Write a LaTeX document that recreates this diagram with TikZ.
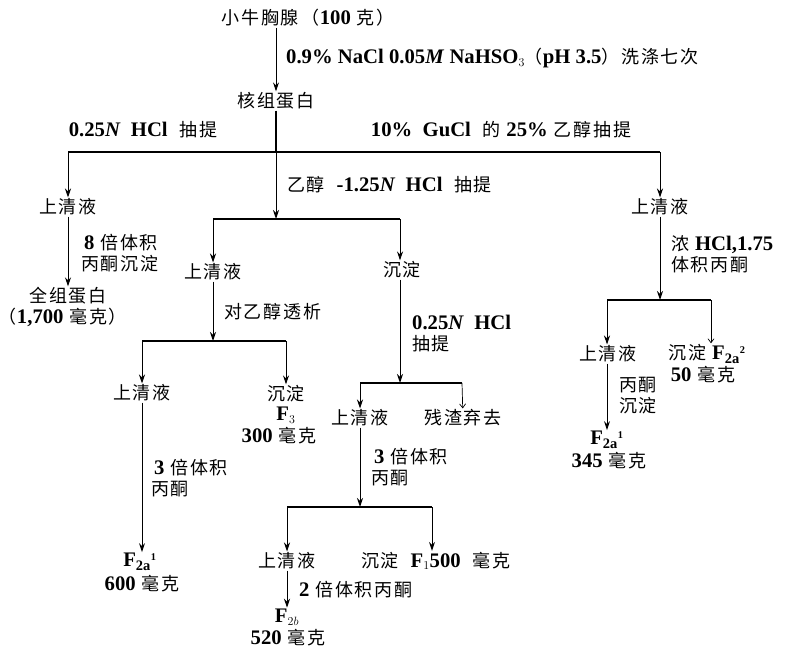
\documentclass[tikz,border=0pt]{standalone}
\usepackage{fontspec}
\setmainfont{Liberation Serif}[Scale=1.15]
\newfontfamily\cjk[LetterSpace=10]{Noto Sans CJK SC}
\newcommand\la[1]{{\rmfamily\bfseries #1}}
\newcommand\Fsub[2]{$\mathbf{F}_{\mathbf{#1}}{}^{\scriptscriptstyle\mathbf{#2}}$}
\usetikzlibrary{arrows.meta}
\begin{document}
\begin{tikzpicture}[x=1pt,y=-1pt,
  arr/.style={-{Stealth[length=9pt,width=6pt]}, line width=1pt},
  thinarr/.style={-{Straight Barb[length=4pt,width=6pt]}, line width=0.7pt},
  ln/.style={line width=1.3pt},
  t/.style={font=\fontsize{18}{21}\selectfont\cjk, inner sep=1pt, align=center},
  lab/.style={t, anchor=west, align=left},
]
\useasboundingbox (0,0) rectangle (792,653);

% top
\node[t] (n0) at (308,18) {小牛胸腺\,（\la{100} 克）};
\node[t] (n1) at (276,101) {核组蛋白};
\draw[arr] (n0.south -| n1) -- (n1);
\node[lab] (l1) at (285,58) {\la{0.9\% NaCl 0.05\textit{M} NaHSO$_3$}（\la{pH 3.5}）洗涤七次};
\node[t] (l2) at (143,130) {\la{0.25\textit{N} \ HCl} \ 抽提};
\node[t] (l3) at (501,130) {\la{10\% \ GuCl} \ 的 \la{25\%} 乙醇抽提};

\coordinate (j1) at (276,152);
\coordinate (jL) at (68,152);
\coordinate (jR) at (660,152);
\draw[ln] (n1) -- (j1);
\draw[ln] (jL) -- (jR);

% left branch
\node[t] (a1) at (68,207) {上清液};
\draw[arr] (jL) -- (a1);
\node[t] (a2) at (68,296) {全组蛋白};
\node[t] (a3) at (63,317) {（\la{1,700} 毫克）};
\draw[arr] (a1) -- (a2);
\node[lab] (l4) at (80,253) {\,\la{8} 倍体积\\丙酮沉淀};

% middle branch
\coordinate (j2) at (276,219);
\draw[arr] (j1) -- (j2);
\node[lab] (l5) at (286,185) {乙醇 \ \la{-1.25\textit{N} \ HCl} \ 抽提};
\coordinate (j2L) at (213,219);
\coordinate (j2R) at (400,219);
\draw[ln] (j2L) -- (j2R);
\node[t] (b1) at (213,272) {上清液};
\draw[arr] (j2L) -- (b1);
\node[t] (b2) at (402,270) {沉淀};
\draw[arr] (j2R) -- (b2.north -| j2R);

\coordinate (j3) at (213,341);
\draw[arr] (b1) -- (j3);
\node[lab] (l6) at (223,312) {对乙醇透析};
\coordinate (j3L) at (142,341);
\coordinate (j3R) at (286,341);
\draw[ln] (j3L) -- (j3R);
\node[t] (c1) at (142,393) {上清液};
\draw[arr] (j3L) -- (c1);
\node[t] (c2) at (286,394) {沉淀};
\draw[arr] (j3R) -- (c2);
\node[t] (c3) at (286,415) {\la{F$_3$}};
\node[t] (c4) at (279,436) {\la{300} 毫克};
\node[t] (c5) at (140,562) {\Fsub{2a}{1}};
\node[t] (c6) at (142,584) {\la{600} 毫克};
\draw[arr] (c1) -- (c1 |- c5.north);
\node[lab] (l7) at (150,478) {\,\la{3} 倍体积\\丙酮};

% precipitate sub-branch
\coordinate (j4) at (400,383);
\draw[arr] (b2.south -| j2R) -- (j4);
\node[lab] (l8) at (411,334) {\la{0.25\textit{N} \ HCl}\\抽提};
\coordinate (j4L) at (360,383);
\coordinate (j4R) at (462,383);
\draw[ln] (j4L) -- (j4R);
\node[t] (d1) at (360,418) {上清液};
\draw[arr] (j4L) -- (d1);
\node[t] (d2) at (463,418) {残渣弃去};
\draw[thinarr] (j4R) -- (d2);

\coordinate (j5) at (360,507);
\draw[arr] (d1) -- (j5);
\node[lab] (l9) at (370,467) {\,\la{3} 倍体积\\丙酮};
\coordinate (j5L) at (287,507);
\coordinate (j5R) at (432,507);
\draw[ln] (j5L) -- (j5R);
\node[t] (e1) at (287,561) {上清液};
\draw[arr] (j5L) -- (e1);
\node[t, anchor=west] (e2) at (360,561) {沉淀 \ \la{F$_1$500} \ 毫克};
\draw[arr] (j5R) -- (j5R |- e2.north);
\node[t] (e3) at (287,617) {\la{F$_{2b}$}};
\node[t] (e4) at (288,638) {\la{520} 毫克};
\draw[arr] (e1) -- (e3);
\node[lab] (l10) at (298,590) {\la{2} 倍体积丙酮};

% right branch
\node[t] (f1) at (660,207) {上清液};
\draw[arr] (jR) -- (f1);
\coordinate (j6) at (660,300);
\draw[arr] (f1) -- (j6);
\node[lab] (l11) at (670,254) {浓 \la{HCl,1.75}\\体积丙酮};
\coordinate (j6L) at (607,300);
\coordinate (j6R) at (711,300);
\draw[ln] (j6L) -- (j6R);
\node[t] (g1) at (608,354) {上清液};
\draw[arr] (j6L) -- (j6L |- g1.north);
\node[t] (g2) at (707,354) {沉淀 \Fsub{2a}{2}};
\draw[thinarr] (j6R) -- (j6R |- g2.north);
\node[t] (g3) at (703,375) {\la{50} 毫克};
\node[t] (g4) at (607,440) {\Fsub{2a}{1}};
\node[t] (g5) at (609,461) {\la{345} 毫克};
\draw[arr] (j6L |- g1.south) -- (j6L |- g4.north);
\node[lab] (l12) at (618,396) {丙酮\\沉淀};
\end{tikzpicture}
\end{document}
